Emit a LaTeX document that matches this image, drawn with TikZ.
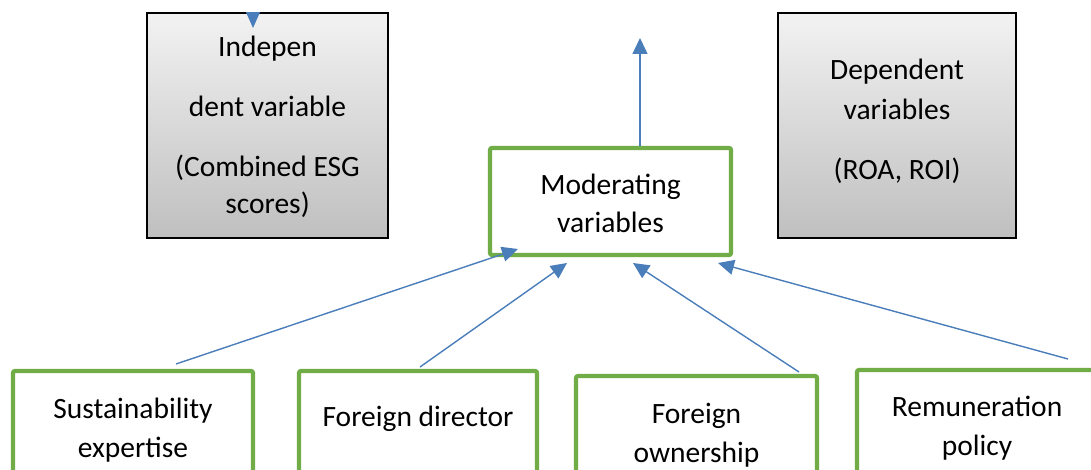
\documentclass[tikz,border=0pt]{standalone}
\usepackage{fontspec}
\setmainfont{Carlito}
\usetikzlibrary{arrows.meta}
\definecolor{boxgreen}{HTML}{70AD47}
\definecolor{linkblue}{HTML}{4A7EBB}
\tikzset{
  greybox/.style={draw=black, line width=1.5pt, top color=gray!10, bottom color=gray!50, inner sep=0pt},
  greenbox/.style={draw=boxgreen, line width=4.2pt, rounded corners=2pt, fill=white, inner sep=0pt},
  lbl/.style={anchor=base, inner sep=0pt, font=\fontsize{29.5}{36}\selectfont},
  link/.style={draw=linkblue, line width=1.4pt, -{Triangle[length=16pt,width=15pt]}},
}
\begin{document}
\begin{tikzpicture}[x=1pt,y=-1pt]
\useasboundingbox (0,0) rectangle (1091,470);
\clip (0,0) rectangle (1091,470);
\fill[white] (0,0) rectangle (1091,470);

% boxes
\node[greybox, minimum width=241pt, minimum height=225pt] (indep) at (267.5,125.5) {};
\node[greybox, minimum width=238pt, minimum height=225pt] (dep) at (897,125.5) {};
\node[greenbox, minimum width=241pt, minimum height=107pt] (mod) at (610.5,201.5) {};
\node[greenbox, minimum width=240pt, minimum height=149pt] (sust) at (133,445.5) {};
\node[greenbox, minimum width=238pt, minimum height=149pt] (fdir) at (418,445.5) {};
\node[greenbox, minimum width=241pt, minimum height=144pt] (fown) at (696.5,448) {};
\node[greenbox, minimum width=240pt, minimum height=150pt] (remu) at (977,445) {};

% texts
\node[lbl] (t1a) at (267.5,57) {Indepen};
\node[lbl] (t1b) at (267.5,117) {dent variable};
\node[lbl] (t1c) at (267.5,177) {(Combined ESG};
\node[lbl] (t1d) at (267.5,214) {scores)};
\node[lbl] (t2a) at (897,80) {Dependent};
\node[lbl] (t2b) at (897,120) {variables};
\node[lbl] (t2c) at (897,180) {(ROA, ROI)};
\node[lbl] (t3a) at (610.5,195) {Moderating};
\node[lbl] (t3b) at (610.5,233) {variables};
\node[lbl] (t4a) at (133,418) {Sustainability};
\node[lbl] (t4b) at (133,457) {expertise};
\node[lbl] (t5a) at (418,426) {Foreign director};
\node[lbl] (t6a) at (696.5,423) {Foreign};
\node[lbl] (t6b) at (696.5,462) {ownership};
\node[lbl] (t7a) at (977,416) {Remuneration};
\node[lbl] (t7b) at (977,455) {policy};

% arrowhead on top of the independent-variable box
\coordinate (tri) at (253,28);
\fill[linkblue] (indep.north -| tri) ++(-7,0) -- ++(14,0) -- (tri) -- cycle;

% connectors
\coordinate (upend) at (640,38);
\draw[link] (mod.north -| upend) -- (upend);

\coordinate (s1) at (176,364);
\coordinate (e1) at (518,249);
\coordinate (s2) at (420,367);
\coordinate (e2) at (567,263);
\coordinate (s3) at (799,372);
\coordinate (e3) at (633,263);
\coordinate (s4) at (1068,359);
\coordinate (e4) at (718,263);
\draw[link] (s1) -- (e1);
\draw[link] (s2) -- (e2);
\draw[link] (s3) -- (e3);
\draw[link] (s4) -- (e4);
\end{tikzpicture}
\end{document}
